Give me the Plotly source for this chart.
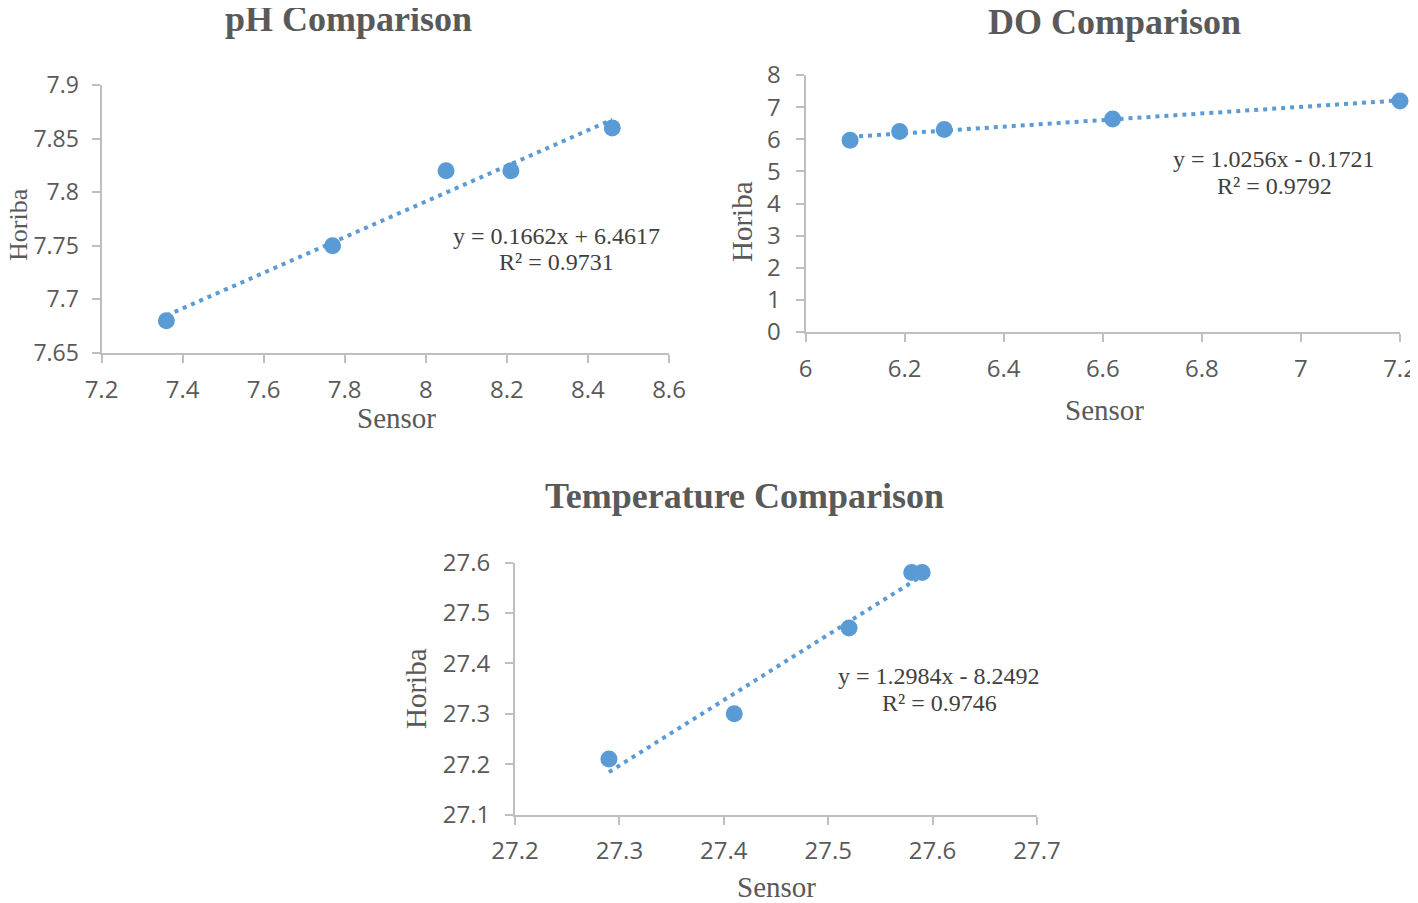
import plotly.graph_objects as go

# ---------------- data ----------------
ph_sensor = [7.36, 7.77, 8.05, 8.21, 8.46]
ph_horiba = [7.68, 7.75, 7.82, 7.82, 7.86]
ph_slope, ph_intercept = 0.1662, 6.4617
ph_eq = ["y = 0.1662x + 6.4617", "R² = 0.9731"]

do_sensor = [6.09, 6.19, 6.28, 6.62, 7.20]
do_horiba = [5.97, 6.24, 6.30, 6.63, 7.19]
do_slope, do_intercept = 1.0256, -0.1721
do_eq = ["y = 1.0256x - 0.1721", "R² = 0.9792"]

temp_sensor = [27.29, 27.41, 27.52, 27.58, 27.59]
temp_horiba = [27.21, 27.30, 27.47, 27.58, 27.58]
temp_slope, temp_intercept = 1.2984, -8.2492
temp_eq = ["y = 1.2984x - 8.2492", "R² = 0.9746"]

ph_xticks = [7.2, 7.4, 7.6, 7.8, 8.0, 8.2, 8.4, 8.6]
ph_xlabels = ["7.2", "7.4", "7.6", "7.8", "8", "8.2", "8.4", "8.6"]
ph_yticks = [7.65, 7.7, 7.75, 7.8, 7.85, 7.9]
ph_ylabels = ["7.65", "7.7", "7.75", "7.8", "7.85", "7.9"]

do_xticks = [6.0, 6.2, 6.4, 6.6, 6.8, 7.0, 7.2]
do_xlabels = ["6", "6.2", "6.4", "6.6", "6.8", "7", "7.2"]
do_yticks = [0, 1, 2, 3, 4, 5, 6, 7, 8]
do_ylabels = ["0", "1", "2", "3", "4", "5", "6", "7", "8"]

temp_xticks = [27.2, 27.3, 27.4, 27.5, 27.6, 27.7]
temp_xlabels = ["27.2", "27.3", "27.4", "27.5", "27.6", "27.7"]
temp_yticks = [27.1, 27.2, 27.3, 27.4, 27.5, 27.6]
temp_ylabels = ["27.1", "27.2", "27.3", "27.4", "27.5", "27.6"]

titles = ["pH Comparison", "DO Comparison", "Temperature Comparison"]
x_title = "Sensor"
y_title = "Horiba"

# ---------------- style ----------------
OFF = 8                      # default body margin of the html page
W, H = 1418 - OFF, 903 - OFF
BLUE = "#5B9BD5"
GRAY_TXT = "#595959"
AXIS_GRAY = "#BFBFBF"
SERIF = "Liberation Serif, Times New Roman, serif"
SANS = "Open Sans, Lato, sans-serif"


def fx(p):
    return (p - OFF) / W


def fy(p):
    return 1 - (p - OFF) / H


fig = go.Figure()

panels = [
    (ph_sensor, ph_horiba, ph_slope, ph_intercept, "x", "y"),
    (do_sensor, do_horiba, do_slope, do_intercept, "x2", "y2"),
    (temp_sensor, temp_horiba, temp_slope, temp_intercept, "x3", "y3"),
]

for xs, ys, m, b, xa, ya in panels:
    x0, x1 = min(xs), max(xs)
    fig.add_trace(go.Scatter(
        x=[x0, x1], y=[m * x0 + b, m * x1 + b], mode="lines",
        line=dict(color=BLUE, width=4, dash="4px,5px"),
        xaxis=xa, yaxis=ya, showlegend=False, hoverinfo="skip", cliponaxis=False))
    fig.add_trace(go.Scatter(
        x=xs, y=ys, mode="markers",
        marker=dict(color=BLUE, size=17, line=dict(width=0)),
        xaxis=xa, yaxis=ya, showlegend=False, cliponaxis=False))


def axis(domain, rng, tv, tt, anchor, is_x, size=24, standoff=None):
    return dict(
        domain=domain, range=rng, anchor=anchor,
        tickvals=tv, ticktext=tt,
        showgrid=False, zeroline=False, automargin=False,
        showline=True, linecolor=AXIS_GRAY, linewidth=2,
        ticks="outside", ticklen=8, tickwidth=2, tickcolor=AXIS_GRAY,
        tickfont=dict(family=SANS, size=size, color=GRAY_TXT),
        ticklabelstandoff=standoff if standoff is not None else (6 if is_x else 10),
        fixedrange=True,
    )


fig.update_layout(
    width=W, height=H, autosize=False,
    margin=dict(l=0, r=0, t=0, b=0, pad=0),
    paper_bgcolor="white", plot_bgcolor="white",
    xaxis=axis([fx(101.5), fx(669)], [7.2, 8.6], ph_xticks, ph_xlabels, "y", True),
    yaxis=axis([fy(353), fy(85)], [7.65, 7.9], ph_yticks, ph_ylabels, "x", False,
               size=23, standoff=8),
    xaxis2=axis([fx(805.5), fx(1400)], [6.0, 7.2], do_xticks, do_xlabels, "y2", True),
    yaxis2=axis([fy(332), fy(75)], [0, 8], do_yticks, do_ylabels, "x2", False),
    xaxis3=axis([fx(515), fx(1037)], [27.2, 27.7], temp_xticks, temp_xlabels, "y3", True),
    yaxis3=axis([fy(814.5), fy(562.5)], [27.1, 27.6], temp_yticks, temp_ylabels, "x3", False),
)

ann = []


def text(t, px, py, size, color=GRAY_TXT, angle=0):
    ann.append(dict(text=t, x=fx(px), y=fy(py), xref="paper", yref="paper",
                    xanchor="center", yanchor="middle", showarrow=False,
                    textangle=angle, font=dict(family=SERIF, size=size, color=color)))


# chart titles
for t, (px, py) in zip(titles, [(348, 19), (1114, 22), (744, 496)]):
    text(f"<b>{t}</b>", px, py, 36)
# x titles
for (px, py) in [(396, 418), (1104, 410), (776, 887)]:
    text(x_title, px, py, 29)
# y titles
for (px, py, s) in [(18, 225, 26), (742, 222, 29), (416, 688, 29)]:
    text(y_title, px, py, s, angle=-90)
# equations (two lines each)
for eq, (px, py) in [(ph_eq, (556, 236)), (do_eq, (1274, 159)), (temp_eq, (939, 676))]:
    text(eq[0], px, py, 24, "#404040")
    text(eq[1], px, py + 26.5, 24, "#404040")

fig.update_layout(annotations=ann)

fig.write_html("out.html")
